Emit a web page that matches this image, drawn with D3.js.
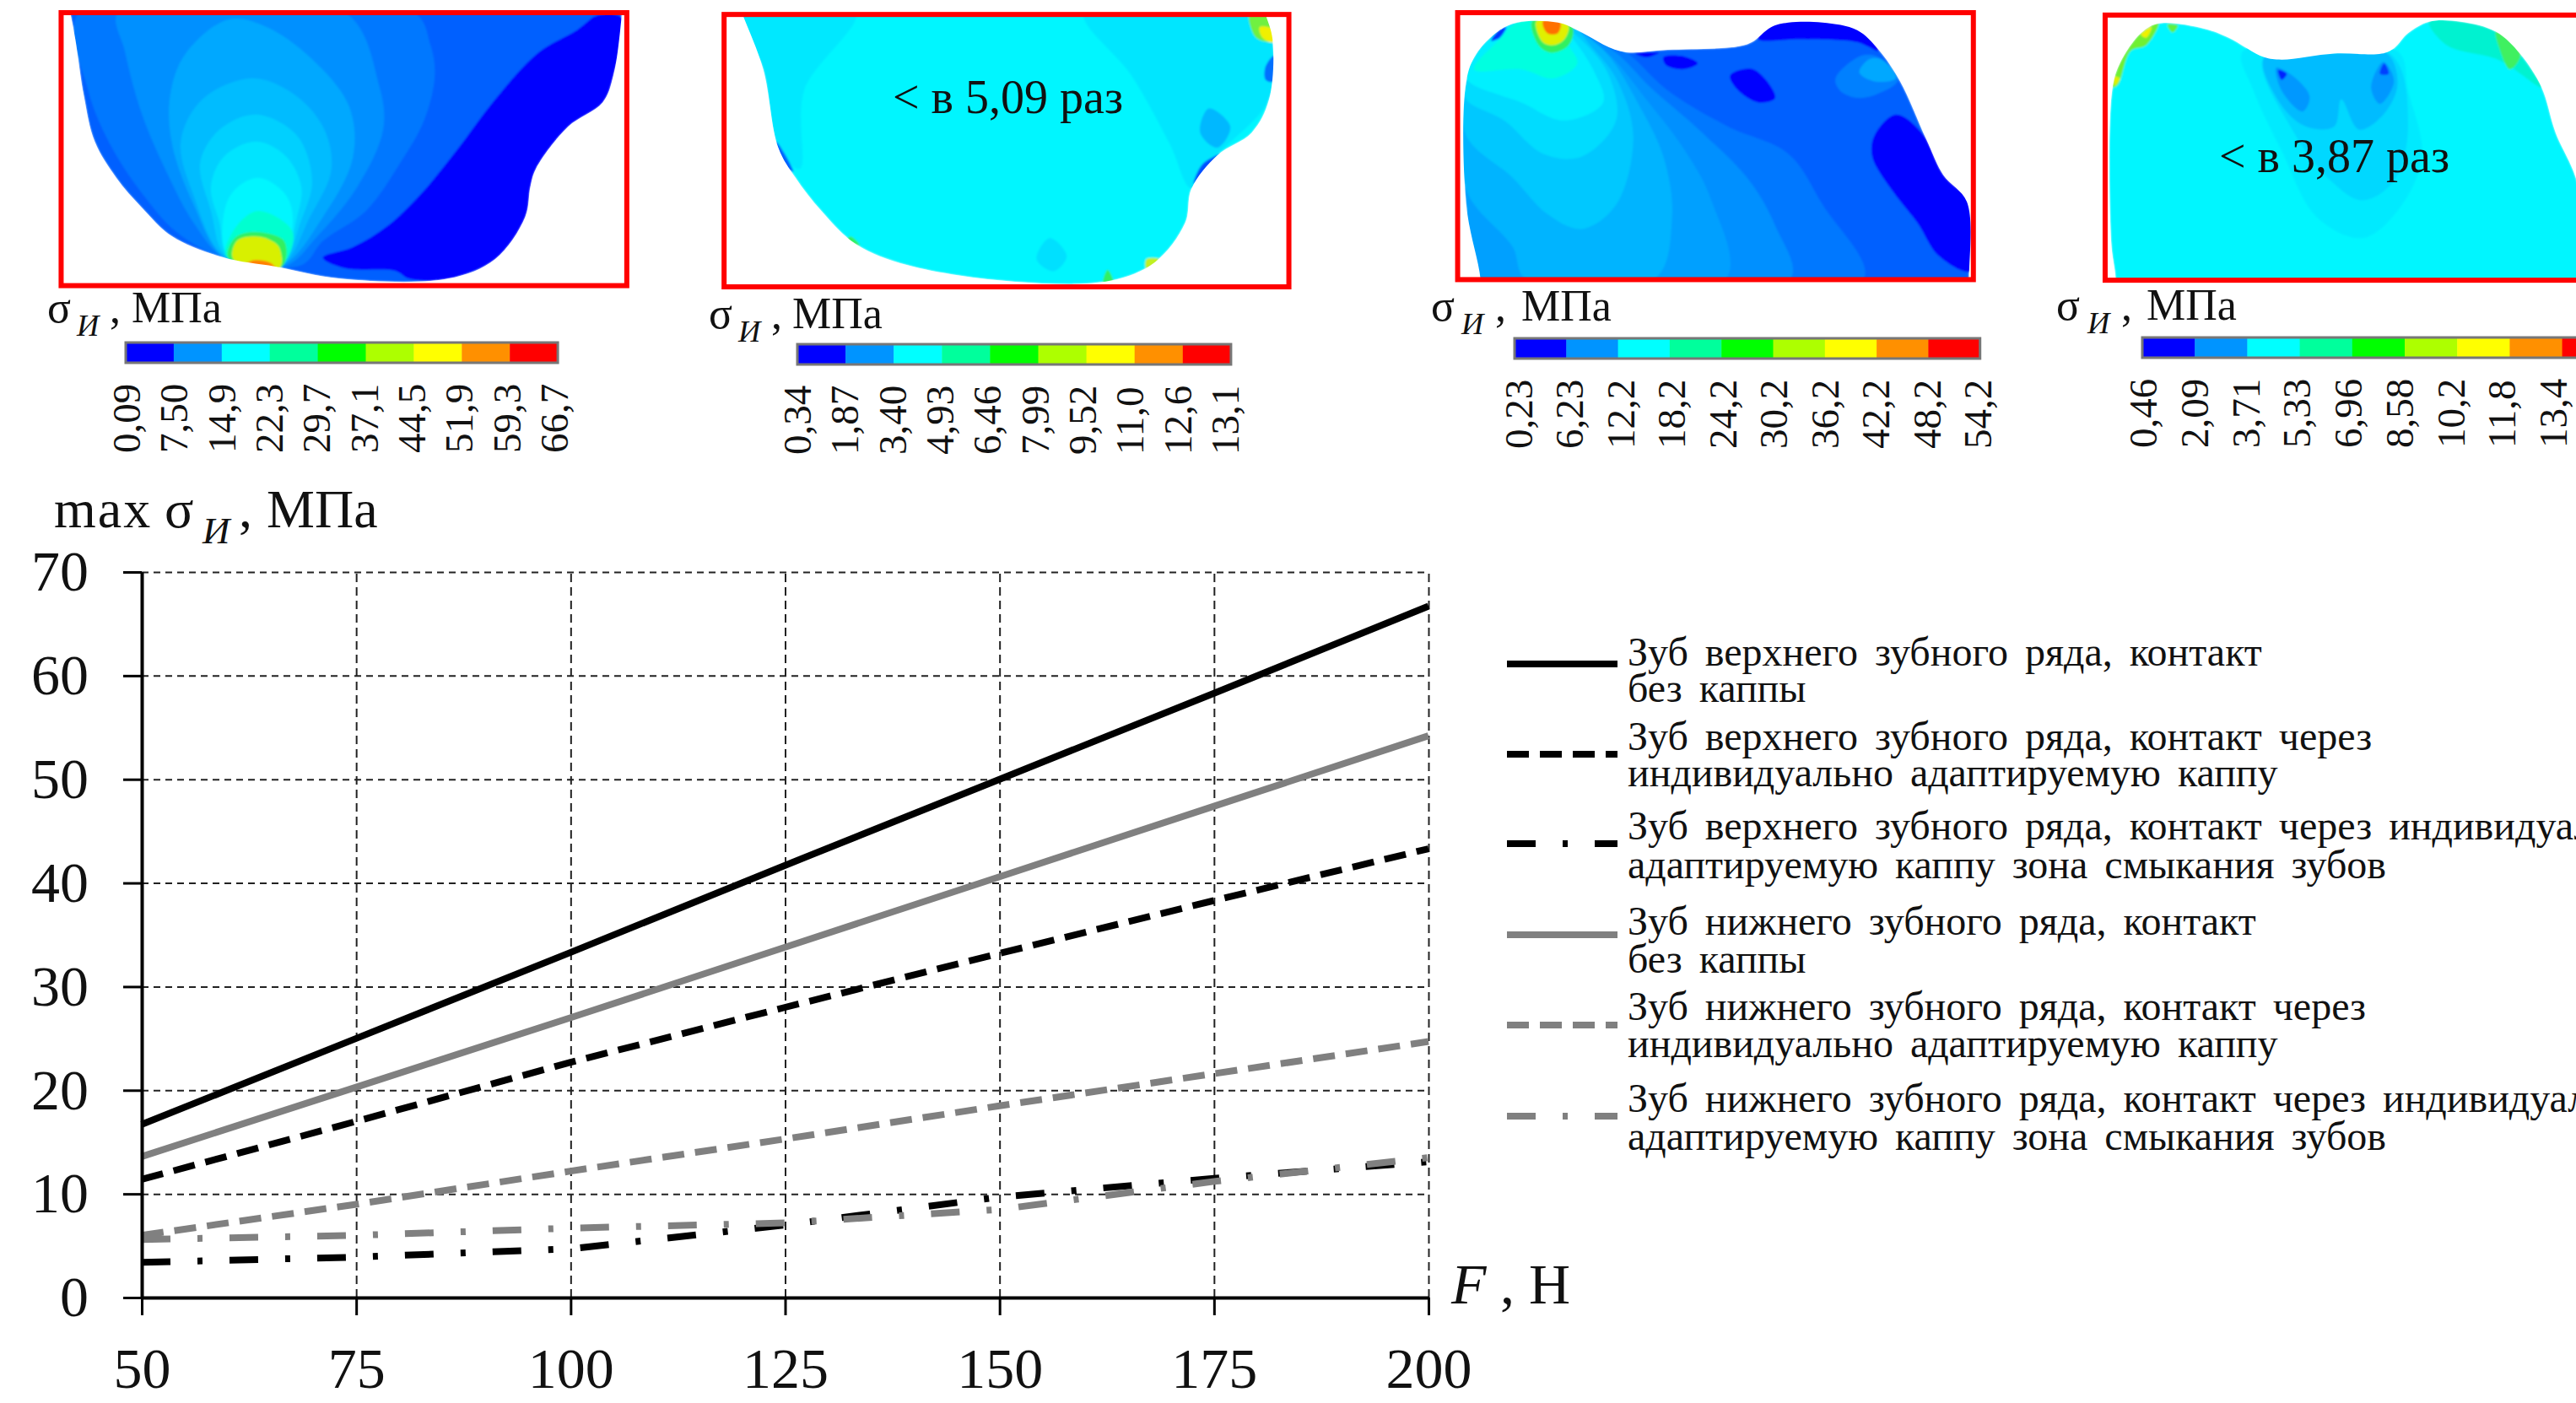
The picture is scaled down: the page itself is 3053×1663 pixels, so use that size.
<!DOCTYPE html>
<html>
<head>
<meta charset="utf-8">
<script src="https://cdnjs.cloudflare.com/ajax/libs/d3/7.8.5/d3.min.js"></script>
<style>
body{margin:0;background:#fff;overflow:hidden}
text{font-family:"Liberation Serif",serif;fill:#111}
</style>
</head>
<body>
<svg class="chart"></svg>
<script>
// line chart data
const forceTicks = [50,75,100,125,150,175,200]
const stressTicks = [0,10,20,30,40,50,60,70]
const upperNoCap = [16.7,25,33.3,41.7,50,58.3,66.7]
const upperCap = [11.4,17,22.7,28,33.2,38.3,43.3]
const upperCapZone = [3.4,3.9,4.7,7,9.7,11.5,13.1]
const lowerNoCap = [13.6,20.3,27,33.8,40.6,47.4,54.2]
const lowerCap = [6,9,12.2,15.3,18.5,21.6,24.7]
const lowerCapZone = [5.6,6,6.7,7.2,8.5,11.2,13.5]
const legendLines = [
  ["Зуб верхнего зубного ряда, контакт","без каппы"],
  ["Зуб верхнего зубного ряда, контакт через","индивидуально адаптируемую каппу"],
  ["Зуб верхнего зубного ряда, контакт через индивидуально","адаптируемую каппу зона смыкания зубов"],
  ["Зуб нижнего зубного ряда, контакт","без каппы"],
  ["Зуб нижнего зубного ряда, контакт через","индивидуально адаптируемую каппу"],
  ["Зуб нижнего зубного ряда, контакт через индивидуально","адаптируемую каппу зона смыкания зубов"]
]

// colour bar labels
const barColors = ["#0000ff","#0094ff","#00ffff","#00ff9c","#00ff00","#adff00","#ffff00","#ff9000","#ff0000"]
const barLabels1 = ["0,09","7,50","14,9","22,3","29,7","37,1","44,5","51,9","59,3","66,7"]
const barLabels2 = ["0,34","1,87","3,40","4,93","6,46","7,99","9,52","11,0","12,6","13,1"]
const barLabels3 = ["0,23","6,23","12,2","18,2","24,2","30,2","36,2","42,2","48,2","54,2"]
const barLabels4 = ["0,46","2,09","3,71","5,33","6,96","8,58","10,2","11,8","13,4"] // the last one is off the picture

// tooth outlines and stress bands, in the tooth's own units
const outline1 = [[150,-60],[163,40],[175,130],[195,320],[220,470],[270,590],[330,690],[400,785],[520,855],[640,885],[790,925],[1040,925],[1150,860],[1220,720],[1232,620],[1245,560],[1320,420],[1400,340],[1425,250],[1445,40],[1450,-60]]
const bands1 = [
  [[185,40],[205,300],[260,490],[340,660],[410,770],[520,855],[700,880],[750,800],[850,700],[930,540],[985,400],[1010,250],[1000,150],[960,40]],
  [[275,40],[290,170],[330,380],[390,580],[450,740],[520,855],[660,885],[740,780],[830,620],[890,430],[880,280],[800,40]],
  [[530,65],[430,180],[395,320],[400,480],[450,680],[520,855],[650,885],[750,720],[820,520],[810,350],[720,190],[620,90]],
  [[585,260],[470,330],[420,470],[450,650],[520,850],[650,885],[720,720],[770,560],[750,420],[680,310]],
  [[595,380],[510,430],[465,540],[490,700],[525,850],[650,880],[700,730],[725,600],[690,450]],
  [[595,470],[520,520],[490,620],[510,740],[530,850],[650,880],[690,720],[700,620],[665,520]],
  [[600,590],[545,630],[520,710],[530,850],[650,880],[680,720],[660,640]],
  [[600,700],[550,750],[525,850],[650,885],[680,770]],
  [[590,770],[545,790],[530,855],[655,885],[660,800]],
  [[590,785],[550,800],[542,860],[650,888],[648,820],[625,795]],
  [[585,865],[570,880],[640,890],[625,870]],
  [[750,855],[820,820],[900,750],[980,640],[1060,500],[1150,330],[1250,175],[1340,100],[1390,50],[1445,60],[1425,250],[1400,340],[1320,420],[1245,560],[1232,620],[1220,720],[1150,860],[1040,925],[950,925],[920,900],[800,890]]
]
const colors1 = ["#0078ff","#0090ff","#00a8ff","#00bcff","#00d0ff","#00e4ff","#00f6ff","#00ffd0","#30f060","#d8f000","#ff8000","#0000ff"]
const outline2 = [[130,-60],[155,40],[205,230],[240,490],[280,590],[340,700],[420,810],[540,880],[790,935],[1010,932],[1115,870],[1185,740],[1200,625],[1260,515],[1340,440],[1380,330],[1388,130],[1370,40],[1350,-60]]
const bands2 = [
  [[155,40],[420,40],[300,300],[290,560],[240,490],[205,230]],
  [[950,40],[1370,40],[1388,130],[1380,330],[1260,515],[1200,625],[1150,480],[1060,250]],
  [[870,790],[910,850],[880,900],[840,860]],
  [[1240,360],[1290,420],[1260,490],[1220,440]],
  [[235,470],[275,570],[262,560],[240,520]],
  [[1268,512],[1225,545],[1205,610],[1240,560]],
  [[1392,185],[1372,220],[1372,265],[1392,270]],
  [[1335,40],[1378,40],[1392,135],[1350,125]],
  [[1358,90],[1392,100],[1390,140],[1365,125]],
  [[408,785],[430,815],[400,795]],
  [[1095,860],[1125,860],[1095,892]],
  [[1005,895],[1018,938],[995,938]]
]
const colors2 = ["#00e8ff","#00e6ff","#00e0ff","#00b8ff","#0060ff","#0050ff","#0070ff","#70f040","#f0f000","#30f060","#c0f020","#30f060"]
const outline3 = [[205,925],[172,680],[172,270],[195,180],[245,105],[290,75],[385,75],[430,100],[530,170],[640,165],[800,155],[835,140],[880,90],[920,75],[1000,75],[1080,100],[1130,165],[1180,270],[1240,460],[1280,580],[1335,670],[1340,925],[1340,1020],[205,1020]]
const leftEdge3 = [[205,925],[172,680],[172,270],[195,180],[245,105],[290,75],[385,75],[430,100]]
const bands3 = [
  [[540,170],[640,300],[780,420],[920,510],[1000,680],[1095,925]].concat(leftEdge3),
  [[520,175],[600,290],[720,440],[830,600],[890,750],[925,925]].concat(leftEdge3),
  [[510,190],[590,330],[680,500],[740,660],[775,925]].concat(leftEdge3),
  [[500,180],[570,340],[630,520],[650,720],[610,925],[310,925],[280,820],[172,630],[172,270],[195,180],[245,105],[290,75],[385,75],[430,100]],
  [[460,150],[520,260],[560,450],[520,680],[440,760],[360,710],[280,590],[172,450],[172,270],[195,180],[245,105],[290,75],[385,75],[430,100]],
  [[430,120],[500,240],[520,400],[440,520],[350,510],[260,400],[172,330],[172,270],[195,180],[245,105],[290,75],[385,75]],
  [[415,120],[470,240],[490,340],[400,400],[300,340],[172,260],[195,180],[245,105],[290,75],[385,75]],
  [[400,130],[430,210],[375,260],[300,230],[190,230],[250,130],[290,75],[385,75]],
  [[325,70],[340,150],[370,175],[410,150],[420,95],[400,70]],
  [[335,70],[350,140],[375,150],[400,130],[410,90],[400,70]],
  [[350,70],[360,110],[385,110],[390,70]],
  [[245,105],[230,135],[250,125],[265,90]],
  [[1170,380],[1120,450],[1115,520],[1160,630],[1220,740],[1270,850],[1345,900],[1345,680],[1280,580],[1230,440]],
  [[850,130],[950,130],[1080,140],[1130,170],[1085,95],[1000,70],[920,70],[880,85]],
  [[630,190],[670,185],[710,210],[675,230],[635,215]],
  [[785,250],[840,230],[890,325],[850,340],[800,295]],
  [[565,178],[620,175],[590,190]],
  [[1030,260],[1090,185],[1130,190],[1175,265],[1130,310],[1080,325],[1040,300]],
  [[1085,240],[1110,195],[1140,200],[1170,260],[1120,270]]
]
const colors3 = ["#0078ff","#0090ff","#00a0ff","#00b4ff","#00c8ff","#00dcff","#00f0ff","#00ffe0","#30f060","#e0f000","#ff7000","#0030ff","#0000ff","#0000ff","#0000ff","#0000ff","#0000ff","#0080ff","#00a8ff"]
const outline4 = [[258,925],[245,800],[248,300],[270,210],[330,110],[380,78],[510,95],[580,125],[680,190],[730,198],[880,178],[1015,178],[1050,160],[1090,110],[1150,72],[1240,72],[1340,105],[1410,180],[1470,290],[1510,440],[1570,600],[1610,925],[1610,1020],[258,1020]]
const bands4 = [
  [[620,170],[650,300],[730,500],[830,720],[960,790],[1060,700],[1130,520],[1090,300],[1060,170]],
  [[680,190],[760,430],[870,600],[960,665],[1050,600],[1090,420],[1040,180]],
  [[680,192],[730,350],[800,420],[880,420],[900,330],[950,430],[1020,380],[1060,280],[1030,178],[880,178]],
  [[715,225],[760,250],[810,320],[790,370],[730,300]],
  [[1020,205],[1050,270],[1010,345],[985,290]],
  [[720,232],[745,245],[730,265]],
  [[1022,210],[1035,245],[1010,245]],
  [[1150,72],[1240,72],[1340,105],[1400,170],[1470,290],[1350,200],[1200,150]],
  [[1340,105],[1410,180],[1380,230],[1350,160]],
  [[330,110],[380,78],[345,150],[300,170],[265,280],[250,290],[270,210]],
  [[330,115],[360,90],[345,125]],
  [[255,255],[270,260],[255,285]],
  [[405,82],[435,85],[420,108]]
]
const colors4 = ["#00eaff","#00d8ff","#00bcff","#0098ff","#0098ff","#0020ff","#0040ff","#00f2d0","#40f060","#70f030","#f0f000","#e0f000","#60f040"]

const width = 3053, height = 1663

let svg = d3.select(".chart")
    .attr("width", width)
    .attr("height", height)
    .style("display", "block")

let blur = svg.append("defs").append("filter").attr("id", "soft")
blur.append("feGaussianBlur").attr("stdDeviation", 1)

// one coloured tooth picture with its red frame
function drawTooth(id, p, outline, bands, colors){
  let xs = d3.scaleLinear().domain([0,p.unitsWide]).range([p.left, p.left+p.pixelsWide])
  let ys = d3.scaleLinear().domain([0,1568]).range([0,560])
  let area = d3.line().x(d=>xs(d[0])).y(d=>ys(d[1])).curve(d3.curveCatmullRomClosed.alpha(0.5))

  svg.append("clipPath").attr("id", "clip"+id)
    .append("path").attr("d", area(outline))
  svg.append("clipPath").attr("id", "frame"+id)
    .append("rect")
      .attr("x", xs(p.frame[0])).attr("y", ys(p.frame[1]))
      .attr("width", xs(p.frame[2])-xs(p.frame[0]))
      .attr("height", ys(p.frame[3])-ys(p.frame[1]))

  let g = svg.append("g").attr("clip-path", "url(#frame"+id+")")
  let inner = g.append("g").attr("clip-path", "url(#clip"+id+")").append("g").attr("filter", "url(#soft)")
  inner.append("path").attr("d", area(outline)).attr("fill", p.base)
  inner.selectAll("path.band").data(bands).enter().append("path")
      .attr("class", "band")
      .attr("d", area)
      .attr("fill", (d,i)=>colors[i])

  svg.append("rect")
      .attr("x", xs(p.frame[0])).attr("y", ys(p.frame[1]))
      .attr("width", xs(p.frame[2])-xs(p.frame[0]))
      .attr("height", ys(p.frame[3])-ys(p.frame[1]))
      .attr("fill", "none")
      .attr("stroke", "#ff0000")
      .attr("stroke-width", 6)
}

// sigma title, used by the small legends and by the main chart
function drawSigma(x, y, size, gaps){
  svg.append("text").attr("x", x).attr("y", y).attr("font-size", size).text("σ")
  svg.append("text").attr("x", x+gaps[0]).attr("y", y+size*.3).attr("font-size", size*.7)
      .attr("font-style", "italic").text("И")
  svg.append("text").attr("x", x+gaps[1]).attr("y", y).attr("font-size", size).text(",")
  svg.append("text").attr("x", x+gaps[2]).attr("y", y).attr("font-size", size).text("МПа")
}

function drawColorBar(left, step, top, labels, labelRange){
  let bar = d3.scaleLinear().domain([0,barColors.length]).range([left,left+step*barColors.length])
  svg.append("g").selectAll("rect").data(barColors).enter().append("rect")
      .attr("x", (d,i)=>bar(i))
      .attr("y", top)
      .attr("width", step+.5)
      .attr("height", 24)
      .attr("fill", d=>d)
  svg.append("rect").attr("x", left).attr("y", top).attr("width", step*barColors.length).attr("height", 24)
      .attr("fill", "none").attr("stroke", "#777").attr("stroke-width", 3)
  let base = d3.scalePoint().domain(labels).range(labelRange)
  svg.append("g").selectAll("text").data(labels).enter().append("text")
      .attr("transform", d=>"translate("+base(d)+","+(top+131)+") rotate(-90)")
      .attr("font-size", 47)
      .text(d=>d)
}

drawTooth(1, {left:0, pixelsWide:800, unitsWide:1568, base:"#0060ff", frame:[142,42,1456,948]}, outline1, bands1, colors1)
drawTooth(2, {left:800, pixelsWide:800, unitsWide:1568, base:"#00f6ff", frame:[114,48,1426,952]}, outline2, bands2, colors2)
drawTooth(3, {left:1650, pixelsWide:800, unitsWide:1568, base:"#0060ff", frame:[152,42,1350,928]}, outline3, bands3, colors3)
drawTooth(4, {left:2400, pixelsWide:653, unitsWide:1568, base:"#00f6ff", frame:[228,50,1700,930]}, outline4, bands4, colors4)

drawSigma(56, 382, 52, [35,74,100])
drawSigma(840, 389, 52, [35,74,99])
drawSigma(1696, 380, 52, [36,76,107])
drawSigma(2437, 379, 52, [37,77,107])

drawColorBar(149, 56.9, 406, barLabels1, [166,673])
drawColorBar(945, 57.1, 408, barLabels2, [961,1468])
drawColorBar(1795, 61.3, 401, barLabels3, [1816,2360])
drawColorBar(2539, 62.2, 400, barLabels4, [2556,3042])

svg.append("text").attr("x", 1058).attr("y", 134).attr("font-size", 56).text("< в 5,09 раз")
svg.append("text").attr("x", 2630).attr("y", 204).attr("font-size", 56).text("< в 3,87 раз")

// main chart
const margin = {top: 678, left: 168}
const plotW = 1525, plotH = 860

let x = d3.scaleLinear().domain([50,200]).range([0,plotW])
let y = d3.scaleLinear().domain([0,70]).range([plotH,0])

let chart = svg.append("g")
    .attr("transform", "translate(" + margin.left + "," + margin.top + ")")

let gridX = d3.axisBottom(x).tickValues(forceTicks.slice(1)).tickSize(-plotH).tickFormat("")
let gridY = d3.axisLeft(y).tickValues(stressTicks.slice(1)).tickSize(-plotW).tickFormat("")

chart.append("g").attr("class", "grid")
    .attr("transform", "translate(0," + plotH + ")")
    .call(gridX)
    .call(g=>g.select(".domain").remove())
    .selectAll("line").attr("stroke", "#222").attr("stroke-width", 2).attr("stroke-dasharray", "10,6")
chart.append("g").attr("class", "grid")
    .call(gridY)
    .call(g=>g.select(".domain").remove())
    .selectAll("line").attr("stroke", "#222").attr("stroke-width", 2).attr("stroke-dasharray", "8,6")

let line = d3.line().x((d,i)=>x(forceTicks[i])).y(d=>y(d))

const seriesValues = [upperNoCap, upperCap, upperCapZone, lowerNoCap, lowerCap, lowerCapZone]
const seriesColors = ["#000","#000","#000","#808080","#808080","#808080"]
const seriesDash = ["none","26,13","34,32,6,32","none","26,13","34,32,6,32"]

chart.selectAll("path.series").data(seriesValues).enter().append("path")
    .attr("class", "series")
    .attr("d", line)
    .attr("fill", "none")
    .attr("stroke", (d,i)=>seriesColors[i])
    .attr("stroke-width", 8)
    .attr("stroke-dasharray", (d,i)=>seriesDash[i])

let xAxis = d3.axisBottom(x).tickValues(forceTicks).tickSizeInner(21).tickSizeOuter(0).tickPadding(38)
let yAxis = d3.axisLeft(y).tickValues(stressTicks).tickSizeInner(22).tickSizeOuter(0).tickPadding(41)

function styleAxis(g){
  g.attr("font-family", null).attr("font-size", 68)
  g.select(".domain").attr("stroke", "#000").attr("stroke-width", 4)
  g.selectAll(".tick line").attr("stroke", "#000").attr("stroke-width", 3)
  g.selectAll(".tick text").attr("fill", "#222")
}
chart.append("g").attr("transform", "translate(0," + plotH + ")").call(xAxis).call(styleAxis)
chart.append("g").call(yAxis).call(styleAxis)

// axis titles
svg.append("text").attr("x", 64).attr("y", 625).attr("font-size", 64).attr("letter-spacing", 2).text("max")
drawSigma(195, 625, 64, [45,88,121])
svg.append("text").attr("x", 1720).attr("y", 1545).attr("font-size", 68).attr("font-style", "italic").text("F")
svg.append("text").attr("x", 1778).attr("y", 1545).attr("font-size", 68).text(",")
svg.append("text").attr("x", 1812).attr("y", 1545).attr("font-size", 68).text("Н")

// legend
const legendY = [787,894,1000,1108,1215,1323]
const firstBase = [789,889,995,1108,1209,1318]
const secondBase = [832,932,1041,1153,1253,1363]

let legend = svg.append("g")
legend.selectAll("line").data(legendLines).enter().append("line")
    .attr("x1", 1786).attr("x2", 1917)
    .attr("y1", (d,i)=>legendY[i]).attr("y2", (d,i)=>legendY[i])
    .attr("stroke", (d,i)=>seriesColors[i])
    .attr("stroke-width", 8)
    .attr("stroke-dasharray", (d,i)=>seriesDash[i])
legend.selectAll("text.first").data(legendLines).enter().append("text")
    .attr("class", "first")
    .attr("x", 1929).attr("y", (d,i)=>firstBase[i])
    .attr("font-size", 48)
    .attr("word-spacing", 8)
    .text(d=>d[0])
legend.selectAll("text.second").data(legendLines).enter().append("text")
    .attr("class", "second")
    .attr("x", 1929).attr("y", (d,i)=>secondBase[i])
    .attr("font-size", 48)
    .attr("word-spacing", 8)
    .text(d=>d[1])
</script>
</body>
</html>
